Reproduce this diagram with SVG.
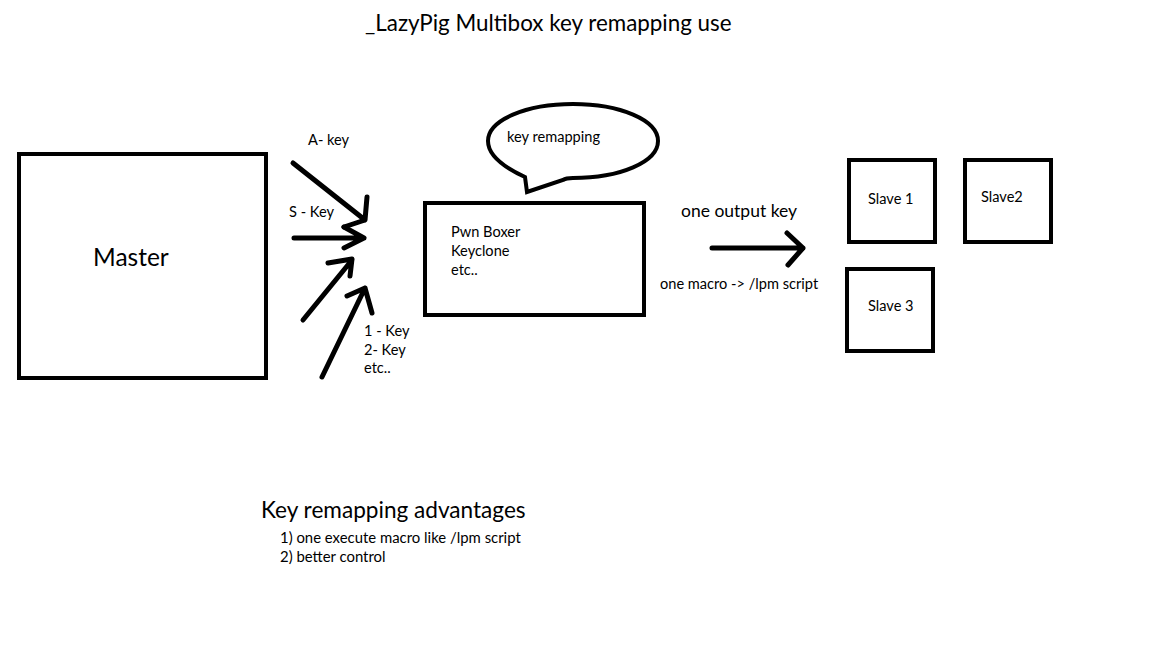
<svg xmlns="http://www.w3.org/2000/svg" width="1152" height="648" viewBox="0 0 1152 648">
<style>
.t{font-family:Lato,"Liberation Sans",sans-serif;fill:#000}
.s{font-size:14.6px}
.box{fill:none;stroke:#000;stroke-width:4}
.ln{fill:none;stroke:#000;stroke-width:5;stroke-linecap:round;stroke-linejoin:round}
</style>
<rect width="1152" height="648" fill="#fff"/>
<text class="t" x="365" y="31" font-size="22.4">_LazyPig Multibox key remapping use</text>
<g id="master"><rect class="box" x="19" y="154" width="247" height="224"/><text class="t" x="93" y="266" font-size="24.5">Master</text></g>
<g id="bubble"><path class="box" d="M525,177 Q488,160 488,141 C488,120 526,104 573,104 C620,104 658,120 658,141 C658,162 620,178 573,178 Q566,178 563,180 L527,192 Z"/><text class="t s" x="507" y="142">key remapping</text></g>
<g id="pwn"><rect class="box" x="425" y="203" width="219" height="112"/><text class="t s" x="451" y="237">Pwn Boxer</text><text class="t s" x="451" y="256">Keyclone</text><text class="t s" x="451" y="275">etc..</text></g>
<g id="slave1"><rect class="box" x="849" y="160" width="86" height="82"/><text class="t s" x="868" y="204">Slave 1</text></g>
<g id="slave2"><rect class="box" x="965" y="160" width="86" height="82"/><text class="t s" x="981" y="202">Slave2</text></g>
<g id="slave3"><rect class="box" x="847" y="269" width="86" height="82"/><text class="t s" x="868" y="311">Slave 3</text></g>
<g id="connectors">
<path class="ln" d="M293,163 L365,220 M367,197 L365,220 L344,227"/>
<path class="ln" d="M294,238 L364,238 M344,227 L364,238 L344,248"/>
<path class="ln" d="M303,320 L352,260 M328,263 L352,259 L350,276"/>
<path class="ln" d="M322,377 L365,288 M347,296 L365,288 L372,313"/>
<path class="ln" d="M712,248 L803,248 M787,233 L803,248 L788,265"/>
</g>
<text class="t s" x="308" y="145">A- key</text>
<text class="t s" x="289" y="217">S - Key</text>
<text class="t s" x="364" y="336">1 - Key</text>
<text class="t s" x="364" y="355">2- Key</text>
<text class="t s" x="364" y="373">etc..</text>
<text class="t" x="681" y="217" font-size="17.5">one output key</text>
<text class="t s" x="660" y="289">one macro -&gt; /lpm script</text>
<text class="t" x="261" y="518" font-size="22.6">Key remapping advantages</text>
<text class="t" x="280" y="543" font-size="14.9">1) one execute macro like /lpm script</text>
<text class="t" x="280" y="562" font-size="14.9">2) better control</text>
</svg>
